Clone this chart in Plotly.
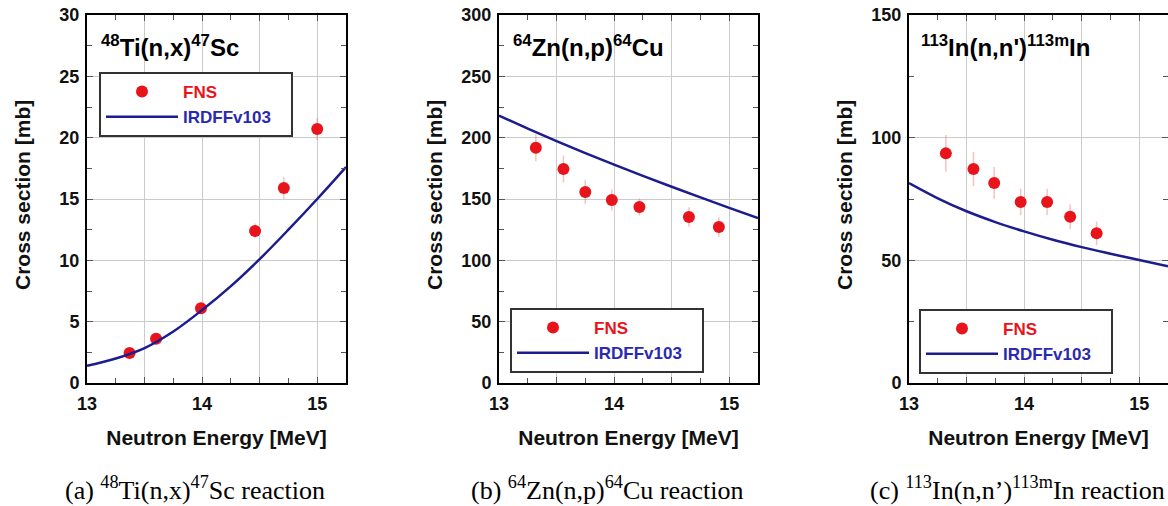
import plotly.graph_objects as go

W, H = 1168, 506

# ---------------- data ----------------
ti_e = [13.37, 13.60, 13.99, 14.46, 14.71, 15.00]
ti_xs = [2.45, 3.6, 6.1, 12.4, 15.9, 20.7]
ti_err = [0.3, 0.3, 0.4, 0.6, 0.9, 0.9]
ti_curve_e = [13.0, 13.25, 13.5, 13.75, 14.0, 14.25, 14.5, 14.75, 15.0, 15.25]
ti_curve = [1.4, 2.0, 2.85, 4.2, 5.95, 7.9, 10.1, 12.5, 15.0, 17.6]

zn_e = [13.32, 13.56, 13.75, 13.98, 14.22, 14.65, 14.91]
zn_xs = [191.8, 174.5, 155.7, 149.2, 143.5, 135.3, 127.2]
zn_err = [11, 11, 9.5, 8.5, 7, 8, 8]
zn_curve_e = [13.0, 13.25, 13.5, 13.75, 14.0, 14.25, 14.5, 14.75, 15.0, 15.25]
zn_curve = [218, 207.4, 197.2, 187.4, 178.0, 168.9, 160.0, 151.3, 142.8, 134.5]

in_e = [13.32, 13.56, 13.74, 13.97, 14.20, 14.40, 14.63]
in_xs = [93.6, 87.2, 81.5, 73.8, 73.8, 67.8, 61.0]
in_err = [7.5, 7, 6.5, 5.4, 5.4, 5, 4.8]
in_curve_e = [13.0, 13.25, 13.5, 13.75, 14.0, 14.25, 14.5, 14.75, 15.0, 15.25]
in_curve = [81.5, 75.3, 70.0, 65.6, 61.8, 58.4, 55.4, 52.7, 50.1, 47.6]

x_tickvals = [13, 13.5, 14, 14.5, 15]
x_ticktext = ["13", "", "14", "", "15"]

panel_titles = ["<sup>48</sup>Ti(n,x)<sup>47</sup>Sc",
                "<sup>64</sup>Zn(n,p)<sup>64</sup>Cu",
                "<sup>113</sup>In(n,n')<sup>113m</sup>In"]
captions = ["(a) <sup>48</sup>Ti(n,x)<sup>47</sup>Sc reaction",
            "(b) <sup>64</sup>Zn(n,p)<sup>64</sup>Cu reaction",
            "(c) <sup>113</sup>In(n,n\u2019)<sup>113m</sup>In reaction"]

y_ranges = [[0, 30], [0, 300], [0, 150]]
y_dticks = [5, 50, 50]

# ---------------- style / layout ----------------
RED = "#e8141c"
BLUE = "#1c1c8e"
SANS = "Liberation Sans, Arial, sans-serif"
SERIF = "Liberation Serif, Times New Roman, serif"

px_x = [(87, 346), (499, 758), (909, 1168)]
px_top, px_bot = 15, 383
legend_pos = [(99, 72), (510, 308), (919, 309)]
title_pos = [(99, 46), (511, 46), (919, 46)]
caption_x = [195, 607, 1017]

fig = go.Figure()

datasets = [(ti_e, ti_xs, ti_err, ti_curve_e, ti_curve),
            (zn_e, zn_xs, zn_err, zn_curve_e, zn_curve),
            (in_e, in_xs, in_err, in_curve_e, in_curve)]

legend_names = ["legend2", "legend3", "legend4"]
NB = "\u00a0"

for i, (e, xs, err, ce, cv) in enumerate(datasets):
    sfx = "" if i == 0 else str(i + 1)
    fig.add_trace(go.Scatter(
        x=e, y=xs, mode="markers",
        marker=dict(color=RED, size=12),
        error_y=dict(type="data", array=err, visible=True,
                     color="rgba(235,100,100,0.4)", thickness=1.5, width=0),
        name="<span style='color:%s'>FNS</span>" % RED,
        xaxis="x" + sfx, yaxis="y" + sfx, legend=legend_names[i],
    ))
    fig.add_trace(go.Scatter(
        x=ce, y=cv, mode="lines",
        line=dict(color=BLUE, width=2.5, shape="spline", smoothing=1.0),
        name="<span style='color:#2a2ab0'>IRDFFv103</span>" + NB * 3,
        xaxis="x" + sfx, yaxis="y" + sfx, legend=legend_names[i],
    ))

tickfont = dict(family=SANS, size=18, color="#111", weight="bold")
titlefont = dict(family=SANS, size=21, color="#111", weight="bold")

layout = dict(
    width=W, height=H, margin=dict(l=0, r=0, t=0, b=0, autoexpand=False),
    paper_bgcolor="white", plot_bgcolor="white", showlegend=True,
    annotations=[], font=dict(family=SANS),
)

for i in range(3):
    sfx = "" if i == 0 else str(i + 1)
    l, r = px_x[i]
    layout["xaxis" + sfx] = dict(
        domain=[l / W, r / W], range=[13, 15.25], anchor="y" + sfx,
        tickvals=x_tickvals, ticktext=x_ticktext, automargin=False,
        showline=True, linecolor="black", linewidth=2, mirror="allticks",
        ticks="inside", ticklen=6, tickcolor="#555", tickwidth=1,
        showgrid=True, gridcolor="#cbcbcb", gridwidth=1, zeroline=False,
        minor=dict(dtick=0.25, tick0=13, ticks="inside", ticklen=5, tickcolor="#555",
                   tickwidth=1, showgrid=False),
        tickfont=tickfont, ticklabelstandoff=3,
        title=dict(text="Neutron Energy [MeV]", font=titlefont, standoff=18),
        fixedrange=True, layer="below traces",
    )
    layout["yaxis" + sfx] = dict(
        domain=[(H - px_bot) / H, (H - px_top) / H], range=y_ranges[i], anchor="x" + sfx,
        dtick=y_dticks[i], tick0=0, automargin=False,
        showline=True, linecolor="black", linewidth=2, mirror="allticks",
        ticks="inside", ticklen=6, tickcolor="#555", tickwidth=1,
        showgrid=True, gridcolor="#cbcbcb", gridwidth=1, zeroline=False,
        minor=dict(dtick=y_dticks[i] / 2, tick0=0, ticks="inside", ticklen=5,
                   tickcolor="#555", tickwidth=1, showgrid=False),
        tickfont=tickfont, ticklabelstandoff=2,
        fixedrange=True,
    )
    layout["annotations"].append(dict(
        text="Cross section [mb]", x=(l - 65) / W, y=(H - 195) / H,
        xref="paper", yref="paper", xanchor="center", yanchor="middle",
        textangle=-90, showarrow=False, font=titlefont,
    ))
    lx, ly = legend_pos[i]
    layout[legend_names[i]] = dict(
        x=lx / W, y=(H - ly) / H, xanchor="left", yanchor="top",
        xref="paper", yref="paper",
        bgcolor="white", bordercolor="#333", borderwidth=2,
        font=dict(family=SANS, size=17, weight="bold"),
        itemwidth=72, tracegroupgap=0,
    )
    tx, ty = title_pos[i]
    layout["annotations"].append(dict(
        text=panel_titles[i], x=tx / W, y=(H - ty) / H, xref="paper", yref="paper",
        xanchor="left", yanchor="middle", showarrow=False,
        font=dict(family=SANS, size=24, color="black", weight="bold"),
    ))
    layout["annotations"].append(dict(
        text=captions[i], x=caption_x[i] / W, y=(H - 488) / H, xref="paper", yref="paper",
        xanchor="center", yanchor="middle", showarrow=False,
        font=dict(family=SERIF, size=26, color="black"),
    ))

fig.update_layout(**layout)
fig.write_html("out.html")
